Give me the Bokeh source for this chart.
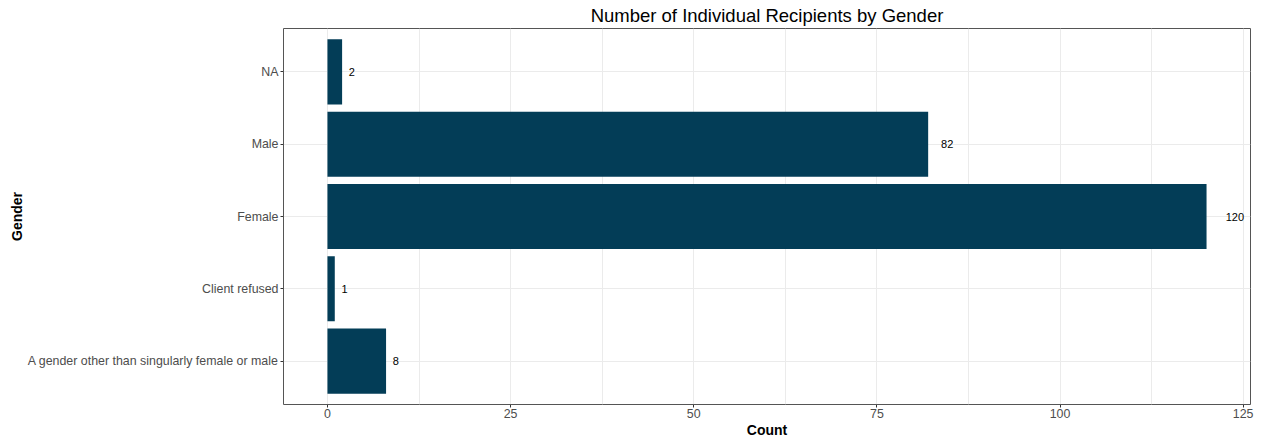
from bokeh.plotting import figure
from bokeh.models import FactorRange, Range1d, FixedTicker, ColumnDataSource
from bokeh.embed import file_html
from bokeh.resources import INLINE
from bokeh.core.properties import value

categories = ["A gender other than singularly female or male", "Client refused", "Female", "Male", "NA"]
counts = [8, 1, 120, 82, 2]
x_ticks = [0, 25, 50, 75, 100, 125]
x_minor = [12.5, 37.5, 62.5, 87.5, 112.5]

FONT = "Liberation Sans"
BAR = "#033d57"

labels = [str(c) for c in counts]
src = ColumnDataSource(dict(cat=categories, cnt=counts, lab=labels,
                            off=[6.2 * len(s) + 0.5 for s in labels]))

p = figure(width=1255, height=440, output_backend="svg", toolbar_location=None,
           y_range=FactorRange(factors=categories, range_padding=0.1, range_padding_units="absolute"),
           x_range=Range1d(-6, 126),
           min_border_left=283, min_border_right=5, min_border_top=0, min_border_bottom=0)

p.title.text = "Number of Individual Recipients by Gender"
p.title.align = "center"
p.title.text_font = FONT
p.title.text_font_size = "18.5px"
p.title.text_font_style = "normal"
p.title.text_color = "#000000"
p.title.standoff = 5

p.hbar(y="cat", right="cnt", left=0, height=0.9, source=src, fill_color=BAR, line_color=None)
p.text(x="cnt", y="cat", text="lab", source=src, x_offset="off", text_align="left",
       text_baseline="middle", text_font=value(FONT), text_font_size="11px", text_color="#000000")

p.xaxis.ticker = FixedTicker(ticks=x_ticks, minor_ticks=x_minor)
p.xaxis.axis_label = "Count"
p.yaxis.axis_label = "Gender"
for ax in (p.xaxis, p.yaxis):
    ax.axis_label_text_font = FONT
    ax.axis_label_text_font_size = "14px"
    ax.axis_label_text_font_style = "bold"
    ax.axis_label_text_color = "#000000"
    ax.major_label_text_font = FONT
    ax.major_label_text_font_size = "12.4px"
    ax.major_label_text_color = "#4d4d4d"
    ax.axis_line_color = None
    ax.major_tick_line_color = "#333333"
    ax.major_tick_out = 3
    ax.major_tick_in = 0
    ax.minor_tick_line_color = None
p.xaxis.major_label_standoff = 0
p.xaxis.axis_label_standoff = 1
p.yaxis.major_label_standoff = 2
p.yaxis.axis_label_standoff = 0

p.xgrid.grid_line_color = "#ebebeb"
p.xgrid.minor_grid_line_color = "#ebebeb"
p.ygrid.grid_line_color = "#ebebeb"
p.outline_line_color = "#555555"
p.outline_line_width = 1
p.background_fill_color = "white"
p.border_fill_color = "white"

open("out.html", "w").write(file_html(p, INLINE))
